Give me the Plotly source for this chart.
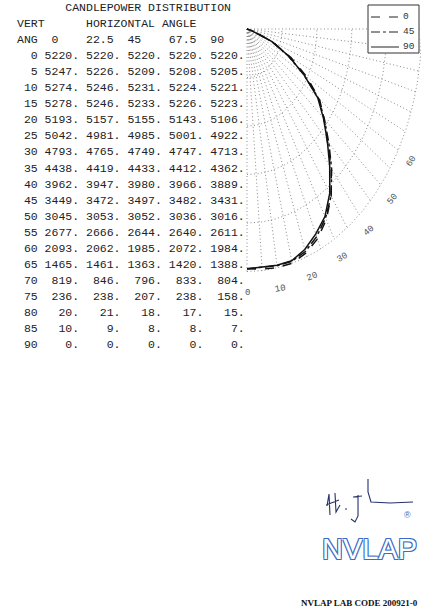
import math
import plotly.graph_objects as go

# ---------------- data ----------------
vert_angles = [0, 5, 10, 15, 20, 25, 30, 35, 40, 45, 50, 55, 60, 65, 70, 75, 80, 85, 90]
horiz_labels = ["0", "22.5", "45", "67.5", "90"]
cd_h0 = [5220, 5247, 5274, 5278, 5193, 5042, 4793, 4438, 3962, 3449, 3045, 2677, 2093, 1465, 819, 236, 20, 10, 0]
cd_h22 = [5220, 5226, 5246, 5246, 5157, 4981, 4765, 4419, 3947, 3472, 3053, 2666, 2062, 1461, 846, 238, 21, 9, 0]
cd_h45 = [5220, 5209, 5231, 5233, 5155, 4985, 4749, 4433, 3980, 3497, 3052, 2644, 1985, 1363, 796, 207, 18, 8, 0]
cd_h67 = [5220, 5208, 5224, 5226, 5143, 5001, 4747, 4412, 3966, 3482, 3036, 2640, 2072, 1420, 833, 238, 17, 8, 0]
cd_h90 = [5220, 5205, 5221, 5223, 5106, 4922, 4713, 4362, 3889, 3431, 3016, 2611, 1984, 1388, 804, 158, 15, 7, 0]
plotted_series = [("0", cd_h0, "dash"), ("45", cd_h45, "dashdot"), ("90", cd_h90, "solid")]
grid_angle_labels = [0, 10, 20, 30, 40, 50, 60, 70, 80, 90]

title_text = "CANDLEPOWER DISTRIBUTION"
lab_code_text = "NVLAP LAB CODE 200921-0"

# ---------------- geometry ----------------
W, H = 421, 615
CX, CY = 247, 29          # polar centre (pixels)
R_OUT_PX = 242.5          # outer grid arc radius (vertical pixels)
K = 0.72                  # horizontal compression of the polar plot

all_vals = cd_h0 + cd_h22 + cd_h45 + cd_h67 + cd_h90
rmax = max(all_vals)
S = R_OUT_PX / rmax

x_range = [-CX / (K * S), (W - CX) / (K * S)]
y_range = [(CY - H) / S, CY / S]


def pol(r, a):
    t = math.radians(a)
    return r * math.sin(t), -r * math.cos(t)


def px(x):
    return x / W


def py(y):
    return 1 - y / H


fig = go.Figure()

# grid: radial lines
gx, gy = [], []
for a in range(0, 91, 5):
    x1, y1 = pol(rmax, a)
    gx += [0, x1, None]
    gy += [0, y1, None]
# grid: arcs
for j in range(1, 6):
    r = rmax * j / 5
    for a in range(0, 91):
        p1, p2 = pol(r, a)
        gx.append(p1)
        gy.append(p2)
    gx.append(None)
    gy.append(None)
fig.add_trace(go.Scatter(x=gx, y=gy, mode="lines", showlegend=False, hoverinfo="skip",
                         line=dict(color="#8a8a8a", width=1, dash="1px,2.5px")))

# curves
for name, vals, dash in plotted_series:
    xs, ys = [], []
    for a, v in zip(vert_angles, vals):
        p1, p2 = pol(v, a)
        xs.append(p1)
        ys.append(p2)
    fig.add_trace(go.Scatter(x=xs, y=ys, mode="lines", name=name, showlegend=False,
                             line=dict(color="#111111", width=1.5, dash=dash)))

annotations = []
shapes = []
# angle labels
for a in grid_angle_labels:
    lx, ly = pol(rmax * 1.09, a)
    annotations.append(dict(x=lx, y=ly, xref="x", yref="y", text=str(a), showarrow=False,
                            textangle=-a, font=dict(family="Liberation Mono", size=9, color="#555555")))

# legend (drawn as a key box)
LX0, LX1, LY0, LY1 = 368, 419, 5, 53
shapes.append(dict(type="rect", xref="paper", yref="paper", x0=px(LX0), x1=px(LX1), y0=py(LY1), y1=py(LY0),
                   line=dict(color="#333333", width=1), fillcolor="white", layer="above"))
for k, (name, _, dash) in enumerate(plotted_series):
    yy = 17 + 15 * k
    shapes.append(dict(type="line", xref="paper", yref="paper", x0=px(371), x1=px(399),
                       y0=py(yy), y1=py(yy), line=dict(color="#222222", width=1, dash=dash), layer="above"))
    annotations.append(dict(x=px(401), y=py(yy), xref="paper", yref="paper", showarrow=False,
                            xanchor="left", yanchor="middle", text=name,
                            font=dict(family="Liberation Mono", size=9.5, color="#333333")))

# table text
NB = "\u00a0"
mono = dict(family="Liberation Mono, Courier New, monospace", size=11.5, color="#222222")
lines = [
    " " * 7 + title_text,
    "VERT" + " " * 6 + "HORIZONTAL ANGLE",
    "ANG  0    22.5  45    67.5  90",
]
for i, va in enumerate(vert_angles):
    row = f"{va:3d} " + " ".join(f"{int(c[i]):4d}." for c in (cd_h0, cd_h22, cd_h45, cd_h67, cd_h90))
    lines.append(row)
TX = 14.5
Y0 = 7.5
PITCH = 16.05
for n, ln in enumerate(lines):
    annotations.append(dict(x=px(TX), y=py(Y0 + PITCH * n), xref="paper", yref="paper",
                            xanchor="left", yanchor="middle", showarrow=False,
                            text=ln.replace(" ", NB), font=mono))

# NVLAP logo
blue = "#3c6cc4"
annotations.append(dict(x=px(369), y=py(549), xref="paper", yref="paper", showarrow=False,
                        text="NVLAP", xanchor="center", yanchor="middle",
                        font=dict(family="Liberation Sans", size=29, color="white",
                                  shadow=f"1px 1px 0 {blue}, -1px -1px 0 {blue}, 1px -1px 0 {blue}, -1px 1px 0 {blue}")))
annotations.append(dict(x=px(413), y=py(522), xref="paper", yref="paper", showarrow=False,
                        text="®", font=dict(family="Liberation Sans", size=9, color=blue)))
annotations.append(dict(x=px(420), y=py(603), xref="paper", yref="paper", showarrow=False,
                        xanchor="right", yanchor="middle", text=lab_code_text,
                        font=dict(family="Liberation Serif", size=9, color="#111111", weight="bold")))


# signature (decorative)
def ppath(strokes):
    out = []
    for st in strokes:
        for k, (a_, b_) in enumerate(st):
            out.append(("M" if k == 0 else "L") + f"{px(a_):.4f},{py(b_):.4f}")
    return " ".join(out)


sig = [
    [(327, 506), (329, 494), (330, 515)],
    [(326, 505), (339, 500)],
    [(335, 493), (336, 512), (340, 505)],
    [(345, 509), (347, 509)],
    [(353, 497), (362, 496)],
    [(358, 495), (358, 516), (355, 522), (351, 519)],
    [(368, 479), (368, 492), (371, 502), (390, 503), (413, 502)],
]
shapes.append(dict(type="path", xref="paper", yref="paper", path=ppath(sig),
                   line=dict(color="#24306e", width=1.1)))

fig.update_layout(
    width=W, height=H, autosize=False,
    margin=dict(l=0, r=0, t=0, b=0),
    paper_bgcolor="white", plot_bgcolor="white",
    xaxis=dict(range=x_range, visible=False, fixedrange=True),
    yaxis=dict(range=y_range, visible=False, fixedrange=True),
    showlegend=False,
    annotations=annotations,
    shapes=shapes,
)

fig.write_html("out.html", config={"displayModeBar": False, "staticPlot": True},
               post_script="document.body.style.margin='0';document.body.style.overflow='hidden';")
